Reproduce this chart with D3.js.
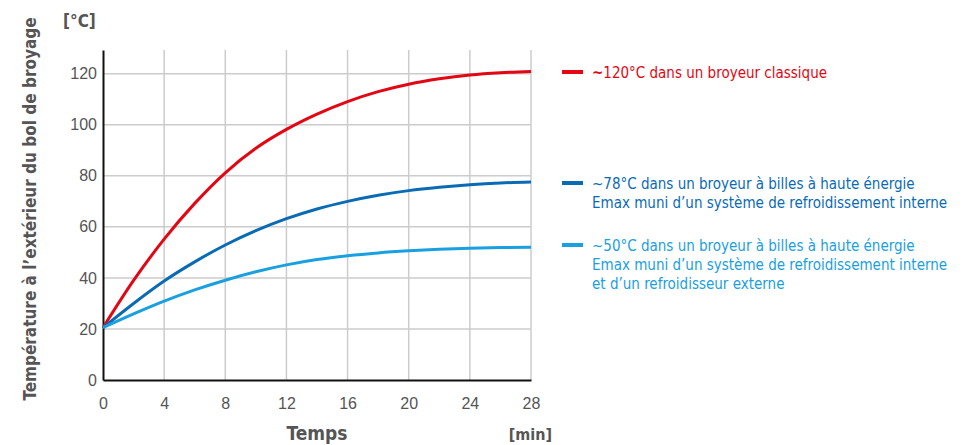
<!DOCTYPE html>
<html>
<head>
<meta charset="utf-8">
<script src="https://cdn.jsdelivr.net/npm/d3@7"></script>
<style>
  body { margin: 0; background: #fff; }
  svg { font-family: "Liberation Sans Narrow", "DejaVu Sans Condensed", "Roboto", sans-serif; }
  .tick text { fill: #555; font-size: 16px; }
  .title { fill: #555; font-weight: bold; }
</style>
</head>
<body>
<svg id="chart"></svg>
<script>
// time in minutes
var minutes = [0, 2, 4, 6, 8, 10, 12, 14, 16, 18, 20, 22, 24, 26, 28];
// temperatures
var classique = [20.5, 39, 55.2, 69.2, 81.2, 90.8, 98.2, 104.2, 109.1, 113, 115.9, 118, 119.5, 120.4, 120.9];
var emaxInterne = [20.5, 30, 38.8, 46.3, 52.9, 58.5, 63.2, 67, 70, 72.4, 74.2, 75.5, 76.5, 77.2, 77.6];
var emaxExterne = [20.5, 25.9, 30.9, 35.3, 39.1, 42.4, 45.1, 47.2, 48.7, 49.8, 50.6, 51.2, 51.6, 51.9, 52];

var xTicks = [0, 4, 8, 12, 16, 20, 24, 28];
var yTicks = [0, 20, 40, 60, 80, 100, 120];

var seriesColors = ["#e30613", "#0a6bb5", "#1aa0e0"];
var legendLines = [
  ["120\u00b0C dans un broyeur classique"],
  ["78\u00b0C dans un broyeur \u00e0 billes \u00e0 haute \u00e9nergie",
   "Emax muni d\u2019un syst\u00e8me de refroidissement interne"],
  ["50\u00b0C dans un broyeur \u00e0 billes \u00e0 haute \u00e9nergie",
   "Emax muni d\u2019un syst\u00e8me de refroidissement interne",
   "et d\u2019un refroidisseur externe"]
];

var initGraph = function()
{
    var screen = {width:966,height:445}
    var margins = {left:103,right:435,top:50,bottom:65}
    var graph = {
        width:screen.width-margins.left-margins.right,
        height:screen.height-margins.top-margins.bottom
    }

    var svg = d3.select("svg")
        .attr("width",screen.width)
        .attr("height",screen.height)

    var xScale = d3.scaleLinear()
        .domain([0,28])
        .range([0,graph.width])
    var yScale = d3.scaleLinear()
        .domain([0,129.3])
        .range([graph.height,0])

    var target = svg.append("g")
        .attr("transform","translate("+margins.left+","+margins.top+")")

    // grid
    target.append("g").selectAll("line")
        .data(yTicks.slice(1))
        .enter().append("line")
        .attr("x1",0).attr("x2",graph.width)
        .attr("y1",function(d){return yScale(d)})
        .attr("y2",function(d){return yScale(d)})
        .attr("stroke","#cccccc").attr("stroke-width",1.5)
    target.append("g").selectAll("line")
        .data(xTicks.slice(1))
        .enter().append("line")
        .attr("y1",0).attr("y2",graph.height)
        .attr("x1",function(d){return xScale(d)})
        .attr("x2",function(d){return xScale(d)})
        .attr("stroke","#cccccc").attr("stroke-width",1.5)

    // axes
    var xAxis = d3.axisBottom(xScale).tickValues(xTicks).tickSize(0).tickPadding(18)
    var yAxis = d3.axisLeft(yScale).tickValues(yTicks).tickSize(0).tickPadding(6)
    var gx = target.append("g")
        .attr("transform","translate(0,"+graph.height+")")
        .call(xAxis)
    var gy = target.append("g").call(yAxis)
    gx.select(".domain").attr("stroke","#111").attr("stroke-width",2)
    gy.select(".domain").attr("stroke","#111").attr("stroke-width",2)
    svg.selectAll(".tick text").attr("font-family",null).attr("font-size",null)

    // lines
    var data = [classique, emaxInterne, emaxExterne]
    var lineGenerator = d3.line()
        .x(function(v,i){return xScale(minutes[i])})
        .y(function(v){return yScale(v)})
        .curve(d3.curveMonotoneX)
    target.append("g").selectAll("path")
        .data(data)
        .enter().append("path")
        .attr("d",lineGenerator)
        .attr("fill","none")
        .attr("stroke",function(d,i){return seriesColors[i]})
        .attr("stroke-width",3)

    // labels
    svg.append("text").classed("title",true)
        .attr("x",63).attr("y",27).attr("font-size",17)
        .text("[\u00b0C]")
    svg.append("text").classed("title",true)
        .attr("x",margins.left+graph.width/2).attr("y",440)
        .attr("text-anchor","middle").attr("font-size",19)
        .text("Temps")
    svg.append("text").classed("title",true)
        .attr("x",552).attr("y",440)
        .attr("text-anchor","end").attr("font-size",16)
        .text("[min]")
    svg.append("text").classed("title",true)
        .attr("transform","translate(36,209) rotate(-90)")
        .attr("text-anchor","middle").attr("font-size",17)
        .text("Temp\u00e9rature \u00e0 l\u2019ext\u00e9rieur du bol de broyage")

    // legend
    var legendY = [72, 183, 245]
    var legend = svg.append("g").selectAll("g")
        .data(legendLines)
        .enter().append("g")
        .attr("transform",function(d,i){return "translate(562,"+legendY[i]+")"})
    legend.append("line")
        .attr("x1",0).attr("x2",21)
        .attr("stroke",function(d,i){return seriesColors[i]})
        .attr("stroke-width",4)
    legend.each(function(lines,i){
        var t = d3.select(this).append("text")
            .attr("fill",seriesColors[i]).attr("font-size",15)
        lines.forEach(function(s,j){
            var ts = t.append("tspan").attr("x",30).attr("y",6+j*19)
            if (j==0) {
                ts.append("tspan").attr("font-weight",i==0?"bold":"normal").text("~")
                ts.append("tspan").text(s)
            } else {
                ts.text(s)
            }
        })
    })
}

initGraph();
</script>
</body>
</html>
